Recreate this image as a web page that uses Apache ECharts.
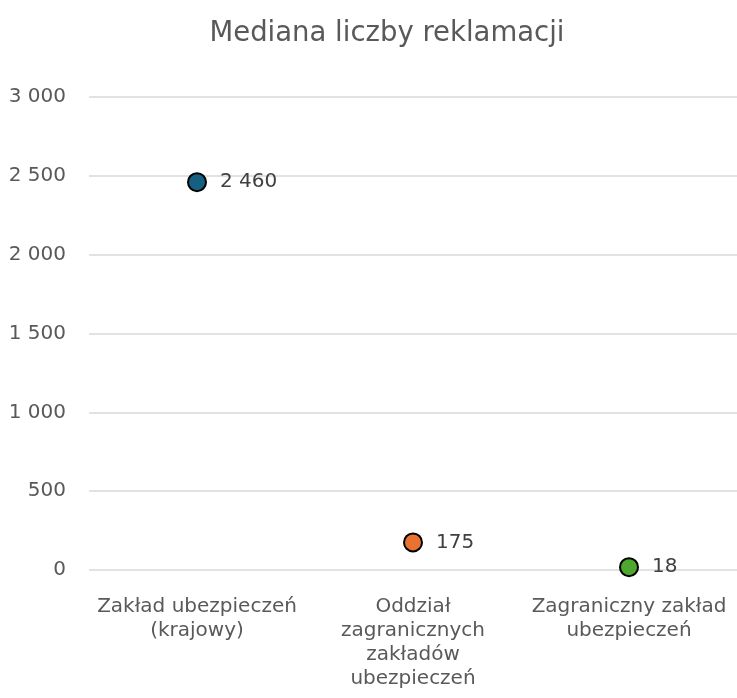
<!DOCTYPE html>
<html>
<head>
<meta charset="utf-8">
<script src="https://cdn.jsdelivr.net/npm/echarts@6/dist/echarts.min.js"></script>
<style>
  html, body { margin: 0; padding: 0; background: #ffffff; }
  #chart { width: 737px; height: 698px; }
</style>
</head>
<body>
<div id="chart"></div>
<script>
// Median number of complaints per type of insurer
const title = 'Mediana liczby reklamacji';
const categories = [
  'Zakład ubezpieczeń (krajowy)',
  'Oddział zagranicznych zakładów ubezpieczeń',
  'Zagraniczny zakład ubezpieczeń'
];
const categoryLabels = [
  'Zakład ubezpieczeń\n(krajowy)',
  'Oddział\nzagranicznych\nzakładów\nubezpieczeń',
  'Zagraniczny zakład\nubezpieczeń'
];
const values = [2460, 175, 18];
const colors = ['#156082', '#E97132', '#4EA72E'];
const yTicks = [0, 500, 1000, 1500, 2000, 2500, 3000];

const font = '"DejaVu Sans", sans-serif';
const fmt = v => String(v).replace(/\B(?=(\d{3})+(?!\d))/g, ' ');

const chart = echarts.init(document.getElementById('chart'), null, { renderer: 'canvas' });
chart.setOption({
  animation: false,
  backgroundColor: '#ffffff',
  title: {
    text: title,
    left: 382,
    textAlign: 'center',
    top: 15,
    textStyle: { fontFamily: font, fontSize: 27.5, fontWeight: 'normal', color: '#595959' }
  },
  grid: { left: 89, right: 0, top: 97, bottom: 128 },
  xAxis: {
    type: 'category',
    data: categories,
    axisLine: { show: false },
    axisTick: { show: false },
    axisLabel: {
      margin: 25,
      fontFamily: font,
      fontSize: 20,
      lineHeight: 24,
      color: '#595959',
      interval: 0,
      formatter: (v, i) => categoryLabels[i]
    }
  },
  yAxis: {
    type: 'value',
    min: yTicks[0],
    max: yTicks[yTicks.length - 1],
    interval: 500,
    axisLine: { show: false },
    axisTick: { show: false },
    splitLine: { lineStyle: { color: '#d9d9d9', width: 1.5 } },
    axisLabel: {
      margin: 23,
      fontFamily: font,
      fontSize: 20,
      color: '#595959',
      formatter: v => fmt(v)
    }
  },
  series: [{
    type: 'scatter',
    data: values.map((v, i) => ({ value: v, itemStyle: { color: colors[i] } })),
    symbol: 'circle',
    symbolSize: 18,
    itemStyle: { borderColor: '#000000', borderWidth: 2, opacity: 1 },
    label: {
      show: true,
      position: 'right',
      distance: 13,
      fontFamily: font,
      fontSize: 20,
      color: '#404040',
      formatter: p => fmt(p.value)
    }
  }]
});
</script>
</body>
</html>
